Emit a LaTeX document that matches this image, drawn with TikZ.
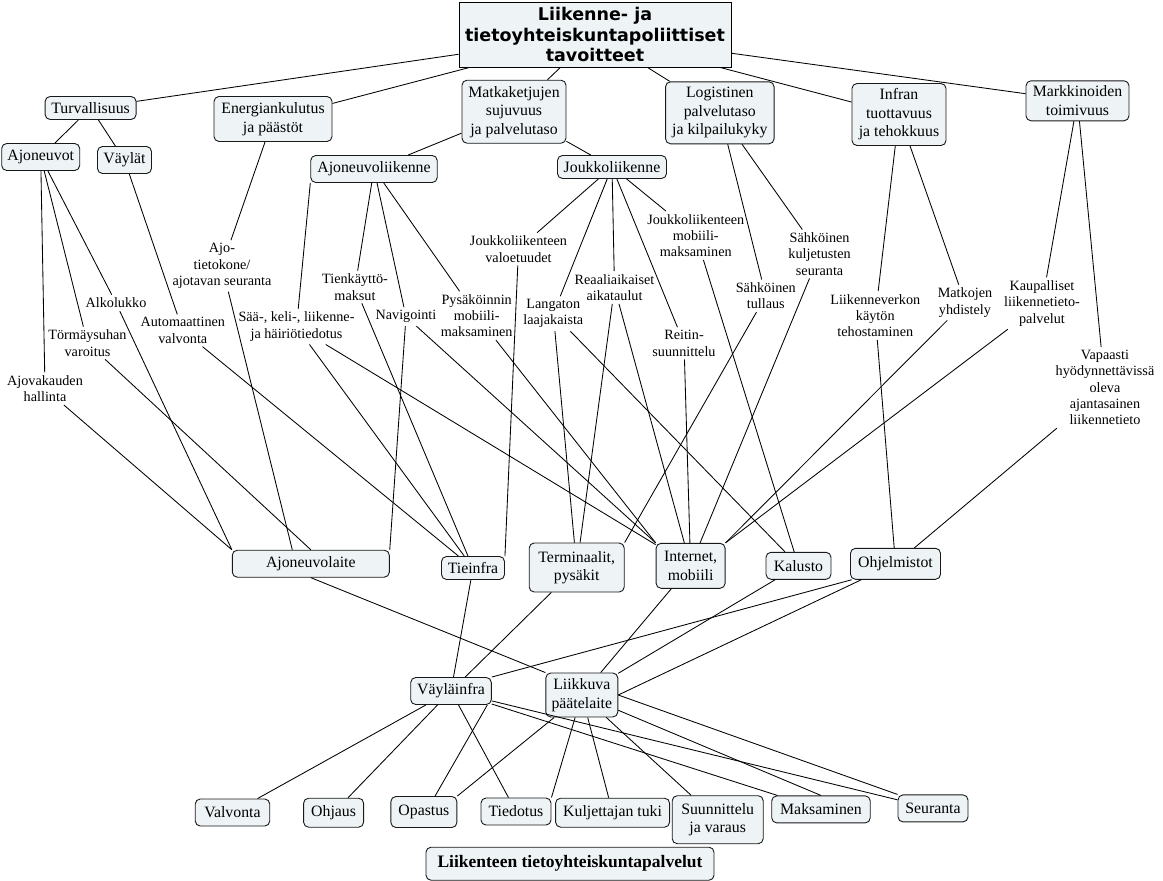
\documentclass[tikz,border=0pt]{standalone}
\usepackage{fontspec}
\setmainfont{Liberation Serif}
\newfontfamily\rootfont{DejaVu Sans}
\definecolor{boxfill}{RGB}{238,244,246}
\begin{document}
\begin{tikzpicture}[x=1pt,y=-1pt,
  box/.style={draw=black!90, fill=boxfill, rounded corners=5pt, line width=0.9pt, align=center,
    font=\fontsize{15.8}{18.5}\selectfont, inner sep=1pt},
  rootbox/.style={draw=black, fill=boxfill, line width=0.9pt, align=center,
    font=\rootfont\bfseries\fontsize{17.5}{20.5}\selectfont, inner sep=1pt},
  lab/.style={align=center, font=\fontsize{14.2}{16.3}\selectfont, inner sep=3pt},
  link/.style={draw=black, line width=0.85pt}]
\useasboundingbox (0,0) rectangle (1163,881);
% root
\node[rootbox, minimum width=272, minimum height=65] (root) at (595,34.5) {Liikenne- ja\\tietoyhteiskuntapoliittiset\\tavoitteet};
% level 1
\node[box, minimum width=91, minimum height=23] (turv) at (90.6,108) {Turvallisuus};
\node[box, minimum width=118, minimum height=45] (energ) at (273,119) {Energiankulutus\\ja päästöt};
\node[box, minimum width=104, minimum height=63] (matka) at (514,111.7) {Matkaketjujen\\sujuvuus\\ja palvelutaso};
\node[box, minimum width=108.5, minimum height=62] (logist) at (719.8,112.8) {Logistinen\\palvelutaso\\ja kilpailukyky};
\node[box, minimum width=94, minimum height=62] (infran) at (899,114.5) {Infran\\tuottavuus\\ja tehokkuus};
\node[box, minimum width=103, minimum height=40] (markk) at (1077.5,100.8) {Markkinoiden\\toimivuus};
% level 2
\node[box, minimum width=78, minimum height=27] (ajon) at (40.7,157) {Ajoneuvot};
\node[box, minimum width=54, minimum height=27] (vaylat) at (124.5,160) {Väylät};
\node[box, minimum width=126.5, minimum height=27] (ajliik) at (374,169) {Ajoneuvoliikenne};
\node[box, minimum width=109, minimum height=23] (joukko) at (612,167) {Joukkoliikenne};
% labels
\node[lab] (ajotk) at (222,266) {Ajo-\\tietokone/\\ajotavan seuranta};
\node[lab] (tienk) at (355,287) {Tienkäyttö-\\maksut};
\node[lab] (valoet) at (518.5,249) {Joukkoliikenteen\\valoetuudet};
\node[lab] (alko) at (116,303) {Alkolukko};
\node[lab] (torm) at (87.5,343) {Törmäysuhan\\varoitus};
\node[lab] (ajov) at (45,388.7) {Ajovakauden\\hallinta};
\node[lab] (autom) at (182.8,330.5) {Automaattinen\\valvonta};
\node[lab] (saa) at (296.5,326.7) {Sää-, keli-, liikenne-\\ja häiriötiedotus};
\node[lab] (navi) at (406,316.7) {Navigointi};
\node[lab] (pysak) at (476.7,315.7) {Pysäköinnin\\mobiili-\\maksaminen};
\node[lab] (langat) at (553.3,313.7) {Langaton\\laajakaista};
\node[lab] (reaal) at (614.5,287.5) {Reaaliaikaiset\\aikataulut};
\node[lab] (reitin) at (684,343.3) {Reitin-\\suunnittelu};
\node[lab] (jlmob) at (695.8,235.5) {Joukkoliikenteen\\mobiili-\\maksaminen};
\node[lab] (tullaus) at (765.8,295.8) {Sähköinen\\tullaus};
\node[lab] (kuljs) at (819.6,254) {Sähköinen\\kuljetusten\\seuranta};
\node[lab] (liikv) at (875.3,315.5) {Liikenneverkon\\käytön\\tehostaminen};
\node[lab] (matkoj) at (965,302.5) {Matkojen\\yhdistely};
\node[lab] (kaup) at (1042,303.3) {Kaupalliset\\liikennetieto-\\palvelut};
\node[lab] (vapaa) at (1105,387.6) {Vapaasti\\hyödynnettävissä\\oleva\\ajantasainen\\liikennetieto};
% level 3
\node[box, minimum width=157, minimum height=27] (ajl) at (310.8,563.7) {Ajoneuvolaite};
\node[box, minimum width=63, minimum height=23] (tie) at (473,568) {Tieinfra};
\node[box, minimum width=95, minimum height=49] (term) at (576.7,567.5) {Terminaalit,\\pysäkit};
\node[box, minimum width=69, minimum height=45] (inet) at (690.6,565.8) {Internet,\\mobiili};
\node[box, minimum width=65, minimum height=27] (kal) at (798.5,565.8) {Kalusto};
\node[box, minimum width=90, minimum height=31] (ohj) at (895.5,563.8) {Ohjelmistot};
% level 4
\node[box, minimum width=80.6, minimum height=27] (vayl) at (451,691) {Väyläinfra};
\node[box, minimum width=72, minimum height=44] (liik) at (581.8,695) {Liikkuva\\päätelaite};
% level 5
\node[box, minimum width=74.5, minimum height=27] (valv) at (232.5,812.5) {Valvonta};
\node[box, minimum width=60, minimum height=29] (ohja) at (333.6,812.7) {Ohjaus};
\node[box, minimum width=66, minimum height=31] (opas) at (423.9,812) {Opastus};
\node[box, minimum width=70, minimum height=27] (tied) at (516,811.5) {Tiedotus};
\node[box, minimum width=114, minimum height=29] (kulj) at (612.6,812.7) {Kuljettajan tuki};
\node[box, minimum width=91, minimum height=48] (suun) at (717.7,819.7) {Suunnittelu\\ja varaus};
\node[box, minimum width=98.5, minimum height=27] (maks) at (821,809.4) {Maksaminen};
\node[box, minimum width=70, minimum height=27] (seur) at (933,808.4) {Seuranta};
\node[box, minimum width=288, minimum height=33, font=\bfseries\fontsize{17.5}{20}\selectfont] (title) at (570,863.7) {Liikenteen tietoyhteiskuntapalvelut};
% connectors
\draw[link] (root) -- (turv);
\draw[link] (root) -- (energ);
\draw[link] (root) -- (matka);
\draw[link] (root) -- (logist);
\draw[link] (root) -- (infran);
\draw[link] (root) -- (markk);
\draw[link] (turv) -- (ajon);
\draw[link] (turv) -- (vaylat);
\draw[link] (matka) -- (ajliik);
\draw[link] (matka) -- (joukko);
\draw[link] (energ) -- (ajotk);
\draw[link] (ajotk) -- (ajl.143);
\draw[link] (ajon) -- (ajov);
\draw[link] (ajon) -- (torm);
\draw[link] (ajon) -- (alko);
\draw[link] (ajov) -- (ajl.north west);
\draw[link] (torm) -- (ajl.north);
\draw[link] (alko) -- (ajl.north west);
\draw[link] (vaylat) -- (autom);
\draw[link] (autom) -- (tie);
\draw[link] (ajliik.south west) -- (saa);
\draw[link] (saa) -- (tie);
\draw[link] (saa) -- (inet);
\draw[link] (ajliik) -- (tienk);
\draw[link] (tienk) -- (tie);
\draw[link] (ajliik) -- (navi);
\draw[link] (navi) -- (ajl.north east);
\draw[link] (navi) -- (inet.north west);
\draw[link] (ajliik) -- (pysak);
\draw[link] (pysak) -- (inet.north west);
\draw[link] (joukko) -- (valoet);
\draw[link] (valoet) -- (tie.north east);
\draw[link] (joukko) -- (langat);
\draw[link] (langat) -- (term);
\draw[link] (langat) -- (kal);
\draw[link] (joukko) -- (reaal);
\draw[link] (reaal) -- (term);
\draw[link] (reaal) -- (inet);
\draw[link] (joukko) -- (reitin);
\draw[link] (reitin) -- (inet);
\draw[link] (joukko) -- (jlmob);
\draw[link] (jlmob) -- (kal);
\draw[link] (logist) -- (tullaus);
\draw[link] (logist) -- (kuljs);
\draw[link] (tullaus) -- (term.north east);
\draw[link] (kuljs) -- (inet);
\draw[link] (infran) -- (liikv);
\draw[link] (infran) -- (matkoj);
\draw[link] (liikv) -- (ohj);
\draw[link] (matkoj) -- (inet.north east);
\draw[link] (markk) -- (kaup);
\draw[link] (markk) -- (vapaa);
\draw[link] (kaup) -- (inet.north east);
\draw[link] (vapaa) -- (ohj);
\draw[link] (ajl.south) -- (liik.north west);
\draw[link] (tie) -- (vayl);
\draw[link] (term) -- (vayl);
\draw[link] (inet) -- (liik);
\draw[link] (kal) -- (liik);
\draw[link] (ohj.-160) -- (vayl.north east);
\draw[link] (ohj.-155) -- (liik.east);
\draw[link] (vayl) -- (valv);
\draw[link] (vayl) -- (ohja);
\draw[link] (vayl.-21) -- (opas.55);
\draw[link] (vayl) -- (tied);
\draw[link] (vayl) -- (maks);
\draw[link] (vayl) -- (seur);
\draw[link] (liik) -- (opas.north east);
\draw[link] (liik) -- (tied.north east);
\draw[link] (liik) -- (kulj);
\draw[link] (liik) -- (suun);
\draw[link] (liik) -- (maks.north);
\draw[link] (liik.east) -- (seur.north west);
\end{tikzpicture}
\end{document}
